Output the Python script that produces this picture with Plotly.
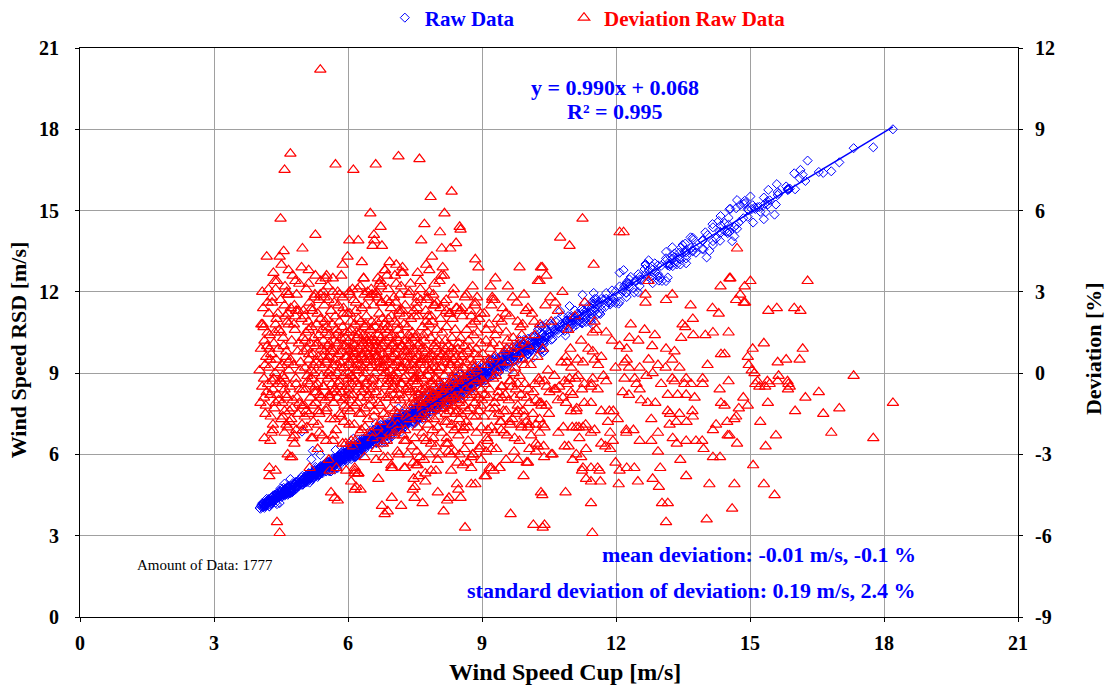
import numpy as np
import plotly.graph_objects as go

# Each sample: (cup wind speed [m/s], deviation of RSD from cup [%])
upper_scatter = [
    (5.38, 11.2), (4.71, 8.1), (4.58, 7.5), (5.72, 7.7), (6.12, 7.5), (6.62, 7.7), (7.13, 8.0),
    (7.60, 7.9), (8.32, 6.7), (7.85, 6.5), (4.49, 5.7), (6.50, 5.9), (6.73, 5.4), (7.71, 5.5),
    (8.16, 5.9), (8.50, 5.4), (11.25, 5.7), (5.27, 5.1), (6.03, 4.9), (8.06, 5.2), (8.52, 5.3),
    (7.64, 4.9), (8.42, 4.8), (8.29, 4.6), (8.10, 4.6), (6.23, 4.9), (6.58, 5.1), (6.59, 4.9),
    (6.55, 4.7), (6.76, 4.7), (10.75, 5.0), (10.96, 4.7), (12.08, 5.2), (12.17, 5.2), (14.71, 4.6),
    (4.97, 37.7), (5.21, 17.8), (5.18, 12.4),
    (7.88, 4.3), (7.75, 4.0), (7.82, 3.8), (7.56, 3.7), (8.12, 3.9), (8.09, 3.6), (8.05, 3.4),
    (6.31, 4.1), (6.93, 4.1), (7.08, 4.0), (6.82, 3.8), (6.87, 3.6), (7.20, 3.7), (6.67, 3.5),
    (6.73, 3.4), (6.35, 3.5), (6.21, 3.1), (6.74, 3.2), (7.08, 3.3), (8.85, 4.2), (8.92, 3.9),
    (8.79, 3.2), (9.19, 3.2), (9.30, 3.5), (9.84, 3.9), (9.58, 3.2), (10.25, 3.4), (10.32, 3.9),
    (7.62, 3.1), (7.91, 2.9), (8.20, 2.7), (8.65, 2.9), (8.89, 2.8), (9.28, 2.7), (9.69, 2.8),
    (9.94, 2.9), (10.03, 2.4), (9.23, 2.8), (9.21, 2.5), (9.53, 2.2), (9.80, 1.9), (9.91, 1.8),
    (10.17, 1.9), (8.97, 2.2), (8.76, 2.1), (8.84, 2.5), (8.42, 2.4), (8.27, 2.2), (8.20, 2.3),
    (8.52, 2.3), (7.86, 2.1), (7.75, 1.9), (7.23, 3.7), (7.56, 2.8), (7.53, 2.6), (7.92, 2.5),
    (7.77, 2.7), (6.37, 2.9), (6.52, 3.1), (6.63, 2.9), (6.74, 2.6), (6.93, 2.6), (7.03, 2.8),
    (7.15, 2.3), (7.26, 2.1),
]

low_wind = [
    (4.56, 4.5), (4.18, 4.3), (4.98, 4.6), (4.47, 4.3), (4.51, 4.0), (4.67, 3.8), (4.96, 3.9),
    (5.12, 3.8), (4.82, 3.4), (5.12, 3.3), (4.33, 3.7), (4.36, 3.4), (4.38, 3.1), (5.99, 4.3),
    (5.88, 4.0), (5.52, 3.6), (4.22, 3.1), (4.29, 2.8), (4.67, 2.9), (5.27, 3.6), (5.50, 3.5),
    (5.66, 3.5), (5.38, 2.9), (5.47, 2.8), (5.77, 3.0), (5.88, 2.8), (6.03, 3.0), (4.66, 2.9),
    (4.80, 2.5), (4.58, 2.5), (4.84, 2.3), (5.00, 2.3), (4.23, 2.2), (4.43, 2.2), (4.60, 2.1),
    (4.82, 2.1), (4.06, 1.8), (4.09, 1.8), (4.20, 1.5), (4.38, 1.8), (4.50, 1.5), (4.67, 1.8),
    (4.13, 1.2), (4.24, 0.9), (4.17, 0.6), (4.39, 0.5), (4.62, 0.8), (4.66, 0.4), (4.02, 0.1),
    (4.12, -0.2), (4.33, -0.2), (4.54, -0.1),
    (4.41, -5.5), (4.47, -5.9), (5.62, -4.4), (5.77, -4.7), (5.70, -4.6), (4.24, -3.5),
    (4.38, -3.6), (4.24, -3.8), (4.65, -3.0), (4.71, -3.1), (4.75, -3.1), (4.13, -2.4),
    (4.26, -2.5), (4.32, -2.1), (4.32, -1.9), (4.15, -1.5), (4.12, -0.9), (4.26, -0.8),
    (4.38, -1.1), (4.45, -1.0), (4.58, -2.2), (4.65, -2.0), (4.62, -1.9), (4.73, -1.7),
    (4.76, -2.4), (4.80, -2.6), (4.80, -2.3), (4.54, -1.6), (4.58, -1.4), (4.69, -1.4),
    (4.32, -0.6), (4.58, -0.6), (4.54, -0.4), (4.99, -2.1), (5.18, -2.4), (5.21, -2.4),
    (5.36, -2.2), (5.51, -2.5), (5.66, -2.5), (5.88, -2.6), (6.07, -2.5), (6.11, -2.7),
    (5.32, -2.8), (5.14, -3.5), (5.57, -3.2), (5.59, -3.6), (5.74, -3.5), (5.96, -3.6),
    (6.15, -3.7), (6.07, -4.0), (6.15, -4.3), (6.18, -4.2), (6.28, -4.3), (6.23, -3.7),
    (4.05, 0.9), (4.08, -0.5), (4.10, 2.4), (4.14, 0.3), (4.16, -1.2), (4.19, 1.0), (4.21, -0.4),
    (4.23, 0.2), (4.25, 1.4), (4.27, -1.6), (4.28, 0.7), (4.30, 2.6), (4.31, -0.3), (4.34, 1.1),
    (4.35, -1.3), (4.37, 0.0), (4.40, 2.0), (4.42, -0.8), (4.44, 0.9), (4.46, 1.6), (4.48, -0.3),
    (4.49, 2.7), (4.52, 0.3), (4.53, -1.1), (4.55, 1.3), (4.57, -0.2), (4.59, 3.2), (4.61, 0.6),
    (4.63, -0.9), (4.64, 1.9), (4.68, 0.1), (4.70, -0.5), (4.72, 2.4), (4.74, 1.2), (4.77, -1.0),
    (4.78, 0.3), (4.81, 1.6), (4.83, -0.2), (4.85, 2.9), (4.87, 0.8), (4.88, -1.5), (4.90, 1.1),
    (4.92, -0.6), (4.94, 0.4), (4.96, 2.0), (4.97, -1.9), (4.99, 1.3),
    (4.84, -0.4), (4.99, -0.6), (5.14, -0.4), (5.29, -0.7), (5.44, -0.5), (5.59, -0.9),
    (5.74, -0.7), (5.88, -1.0), (6.03, -0.8), (6.15, -1.2), (4.91, -1.1), (5.06, -1.4),
    (5.21, -1.2), (5.36, -1.5), (5.51, -1.4), (5.70, -1.7), (5.85, -1.6), (6.03, -1.9),
    (4.69, -1.8), (4.84, -2.1),
    (4.04, -1.1), (4.11, 1.7), (4.18, -0.7), (4.26, 0.5), (4.29, -2.2), (4.36, 1.5), (4.43, -0.4),
    (4.47, 0.2), (4.51, -1.7), (4.56, 1.0), (4.60, -0.8), (4.66, 2.2), (4.71, 0.5), (4.75, -1.3),
    (4.79, 1.8), (4.86, -0.9), (4.89, 2.3), (4.93, 0.1), (4.98, -1.2), (4.08, 3.0), (4.20, 2.6),
    (4.41, 3.4), (4.63, 3.0), (4.76, 3.6), (4.91, 3.3),
]

core_wind = [
    (5.01, 0.8), (5.02, -1.2), (5.03, 2.1), (5.04, 0.2), (5.05, -0.6), (5.06, 1.5), (5.07, 3.1),
    (5.08, -2.0), (5.09, 0.9), (5.10, -0.3), (5.11, 1.9), (5.12, 0.5), (5.13, -1.5), (5.14, 2.6),
    (5.15, 1.1), (5.16, -0.9), (5.17, 0.1), (5.18, 1.7), (5.19, -0.2), (5.20, 2.3), (5.21, 0.7),
    (5.22, -1.8), (5.23, 1.3), (5.24, 0.0), (5.25, -0.7), (5.26, 2.9), (5.27, 1.0), (5.28, -1.1),
    (5.29, 0.4), (5.30, 1.8), (5.31, -0.4), (5.32, 2.2), (5.33, 0.6), (5.34, -1.4), (5.35, 1.4),
    (5.36, 0.3), (5.37, -0.8), (5.38, 2.0), (5.39, 3.4), (5.40, 0.9), (5.41, -0.1), (5.42, 1.6),
    (5.43, -2.3), (5.44, 0.2), (5.45, 1.2), (5.46, -0.5), (5.47, 2.5), (5.48, 0.8), (5.49, -1.0),
    (5.50, 1.5),
    (5.51, 0.4), (5.52, -1.3), (5.53, 2.0), (5.54, 1.0), (5.55, -0.2), (5.56, 2.7), (5.57, 0.6),
    (5.58, -0.8), (5.59, 1.4), (5.60, 0.1), (5.61, -1.7), (5.62, 2.3), (5.63, 0.9), (5.64, -0.4),
    (5.65, 1.8), (5.66, 3.0), (5.67, 0.3), (5.68, -1.1), (5.69, 1.2), (5.70, 0.5), (5.71, -0.6),
    (5.72, 2.1), (5.73, -2.1), (5.74, 1.6), (5.75, 0.0), (5.76, -0.9), (5.77, 1.1), (5.78, 2.5),
    (5.79, 0.7), (5.80, -0.3), (5.81, 1.9), (5.82, -1.5), (5.83, 0.4), (5.84, 1.3), (5.85, 3.6),
    (5.86, -0.7), (5.87, 0.8), (5.88, 1.7), (5.89, -0.1), (5.90, 2.4), (5.91, 0.2), (5.92, -1.2),
    (5.93, 1.0), (5.94, 0.6), (5.95, -2.6), (5.96, 1.5), (5.97, -0.5), (5.98, 2.2), (5.99, 0.9),
    (6.00, -0.2), (5.53, 0.5), (5.58, 1.1), (5.63, -0.1), (5.68, 0.8), (5.73, 1.4), (5.78, -0.4),
    (5.83, 0.2), (5.88, 1.0), (5.93, -0.9), (5.98, 0.6),
    (6.01, 1.2), (6.02, -0.6), (6.03, 0.4), (6.04, 2.2), (6.05, -1.4), (6.06, 0.9), (6.07, 1.6),
    (6.08, -0.1), (6.09, 0.6), (6.10, 3.1), (6.11, -0.8), (6.12, 1.1), (6.13, 0.2), (6.14, -1.9),
    (6.15, 1.8), (6.16, 0.7), (6.17, -0.3), (6.18, 2.6), (6.19, 0.1), (6.20, 1.3), (6.21, -1.1),
    (6.22, 0.5), (6.23, 2.0), (6.24, -0.5), (6.25, 0.9), (6.26, 1.5), (6.27, -2.2), (6.28, 0.3),
    (6.29, 1.0), (6.30, -0.7), (6.31, 2.4), (6.32, 0.6), (6.33, -0.2), (6.34, 1.4), (6.35, 3.5),
    (6.36, 0.0), (6.37, -1.3), (6.38, 1.7), (6.39, 0.8), (6.40, -0.4), (6.41, 2.1), (6.42, 0.4),
    (6.43, -0.9), (6.44, 1.2), (6.45, -1.7), (6.46, 0.7), (6.47, 2.8), (6.48, 0.2), (6.49, -0.6),
    (6.50, 1.6), (6.02, 0.3), (6.06, 1.9), (6.11, -0.2), (6.15, 0.8), (6.19, 1.5), (6.24, 0.1),
    (6.28, -0.9), (6.33, 1.1), (6.37, 0.5), (6.42, -0.3), (6.46, 1.3), (6.49, 0.6), (6.04, -1.0),
    (6.13, 2.7), (6.22, -0.4), (6.31, 0.7), (6.40, 1.8), (6.48, -1.2),
    (6.51, 0.5), (6.52, -1.0), (6.53, 1.9), (6.54, 0.3), (6.55, -0.3), (6.56, 1.3), (6.57, 2.5),
    (6.58, -1.6), (6.59, 0.8), (6.60, 0.0), (6.61, 1.7), (6.62, -0.7), (6.63, 1.0), (6.64, 3.0),
    (6.65, 0.4), (6.66, -2.0), (6.67, 1.4), (6.68, 0.6), (6.69, -0.4), (6.70, 2.2), (6.71, 0.9),
    (6.72, -1.2), (6.73, 1.6), (6.74, 0.2), (6.75, -0.8), (6.76, 2.6), (6.77, 1.1), (6.78, -0.1),
    (6.79, 0.7), (6.80, -1.5), (6.81, 1.8), (6.82, 0.3), (6.83, 3.8), (6.84, -0.5), (6.85, 1.2),
    (6.86, 0.5), (6.87, -2.5), (6.88, 1.5), (6.89, -0.2), (6.90, 2.0), (6.91, 0.8), (6.92, -0.9),
    (6.93, 1.3), (6.94, 0.1), (6.95, -1.3), (6.96, 2.4), (6.97, 0.6), (6.98, -0.6), (6.99, 1.0),
    (7.00, -0.1), (6.52, 0.9), (6.56, -0.2), (6.60, 1.2), (6.64, 0.6), (6.68, -1.1), (6.72, 0.4),
    (6.76, 1.0), (6.80, 0.2), (6.84, 1.6), (6.88, -0.4), (6.92, 0.9), (6.96, -0.3), (6.54, 2.9),
    (6.63, -2.8), (6.71, 3.3), (6.79, -3.1), (6.87, 2.7), (6.95, -2.2),
    (7.01, 1.1), (7.02, -0.8), (7.03, 0.3), (7.04, 1.9), (7.05, -1.4), (7.06, 0.7), (7.07, 2.6),
    (7.08, -0.2), (7.09, 1.3), (7.10, 0.0), (7.11, -1.9), (7.12, 1.6), (7.13, 0.5), (7.14, -0.6),
    (7.15, 2.2), (7.16, 0.9), (7.17, -1.0), (7.18, 1.4), (7.19, 3.2), (7.20, 0.2), (7.21, -0.4),
    (7.22, 1.0), (7.23, -2.3), (7.24, 0.6), (7.25, 1.8), (7.26, -0.9), (7.27, 0.4), (7.28, 2.5),
    (7.29, -0.1), (7.30, 1.2), (7.31, -1.6), (7.32, 0.8), (7.33, 1.7), (7.34, -0.5), (7.35, 0.3),
    (7.36, 2.9), (7.37, -1.2), (7.38, 1.1), (7.39, 0.1), (7.40, -0.7), (7.41, 2.0), (7.42, 0.7),
    (7.43, -2.7), (7.44, 1.5), (7.45, -0.3), (7.46, 0.9), (7.47, 2.3), (7.48, -1.1), (7.49, 0.5),
    (7.50, 1.3), (7.03, -0.3), (7.07, 0.9), (7.11, 0.4), (7.15, -0.8), (7.19, 1.0), (7.23, 0.2),
    (7.27, -1.3), (7.31, 0.6), (7.35, 1.4), (7.39, -0.6), (7.43, 0.3), (7.47, -0.2), (7.05, 3.6),
    (7.14, -3.0), (7.22, 3.9), (7.30, -2.5), (7.38, 3.0), (7.46, -3.3),
    (7.51, 0.2), (7.52, -1.1), (7.53, 1.4), (7.54, -0.4), (7.55, 0.6), (7.56, -2.0), (7.57, 2.1),
    (7.58, -0.8), (7.59, 0.0), (7.60, 1.1), (7.61, -1.5), (7.62, 0.4), (7.63, 2.7), (7.64, -0.6),
    (7.65, 0.9), (7.66, -1.2), (7.67, 1.7), (7.68, -0.2), (7.69, 0.5), (7.70, -2.4), (7.71, 1.2),
    (7.72, -0.9), (7.73, 0.3), (7.74, 2.3), (7.75, -0.5), (7.76, 0.8), (7.77, -1.7), (7.78, 1.5),
    (7.79, -0.1), (7.80, 0.6), (7.81, -1.0), (7.82, 3.0), (7.83, 0.1), (7.84, -0.7), (7.85, 1.3),
    (7.86, -1.4), (7.87, 0.7), (7.88, -0.3), (7.89, 1.9), (7.90, -2.1), (7.91, 0.4), (7.92, -0.8),
    (7.93, 1.0), (7.94, -0.2), (7.95, 2.5), (7.96, -1.3), (7.97, 0.2), (7.98, -0.6), (7.99, 1.6),
    (8.00, -1.0), (7.52, 0.8), (7.56, -0.3), (7.60, -1.0), (7.64, 0.5), (7.68, -1.3), (7.72, 0.9),
    (7.76, -0.7), (7.80, 0.1), (7.84, -1.1), (7.88, 0.6), (7.92, -0.5), (7.96, 1.1), (7.54, -2.9),
    (7.62, 3.4), (7.70, -3.2), (7.78, 2.8), (7.86, -2.6), (7.94, 3.3),
    (8.01, 0.5), (8.02, -1.6), (8.03, 1.2), (8.04, -0.3), (8.05, 0.8), (8.06, -1.0), (8.07, 2.0),
    (8.08, -0.6), (8.09, 0.2), (8.10, -2.2), (8.11, 1.5), (8.12, -0.8), (8.13, 0.4), (8.14, -1.3),
    (8.15, 2.6), (8.16, -0.1), (8.17, 0.9), (8.18, -1.8), (8.19, 0.6), (8.20, -0.5), (8.21, 1.7),
    (8.22, -1.1), (8.23, 0.1), (8.24, -2.6), (8.25, 1.0), (8.26, -0.4), (8.27, 0.7), (8.28, -1.4),
    (8.29, 2.2), (8.30, -0.7), (8.31, 0.3), (8.32, -1.9), (8.33, 1.3), (8.34, -0.2), (8.35, 0.5),
    (8.36, -1.2), (8.37, 3.1), (8.38, -0.9), (8.39, 0.0), (8.40, 1.6), (8.41, -1.5), (8.42, 0.6),
    (8.43, -0.6), (8.44, 2.4), (8.45, -2.0), (8.46, 0.9), (8.47, -0.3), (8.48, 1.1), (8.49, -1.1),
    (8.50, 0.4), (8.03, -0.9), (8.08, 0.6), (8.13, -0.5), (8.18, 1.2), (8.23, -1.2), (8.28, 0.3),
    (8.33, -0.8), (8.38, 0.8), (8.43, -1.4), (8.48, 0.1), (8.05, -3.0), (8.15, 3.6), (8.25, -2.9),
    (8.35, 2.9), (8.45, -3.3),
    (8.51, -0.4), (8.52, 1.3), (8.53, -1.5), (8.54, 0.6), (8.55, -0.8), (8.56, 2.1), (8.57, -2.1),
    (8.58, 0.2), (8.59, -0.2), (8.60, 1.0), (8.61, -1.2), (8.62, 2.8), (8.63, -0.6), (8.64, 0.4),
    (8.65, -1.8), (8.66, 1.6), (8.67, -0.1), (8.68, 0.8), (8.69, -2.5), (8.70, 1.2), (8.71, -0.9),
    (8.72, 0.0), (8.73, 2.3), (8.74, -1.3), (8.75, 0.5), (8.76, -0.5), (8.77, 1.8), (8.78, -1.6),
    (8.79, 0.3), (8.80, -3.0), (8.81, 1.4), (8.82, -0.7), (8.83, 0.7), (8.84, -1.1), (8.85, 2.6),
    (8.86, -0.3), (8.87, 0.9), (8.88, -2.2), (8.89, 0.1), (8.90, 1.5), (8.91, -0.9), (8.92, 0.6),
    (8.93, -1.4), (8.94, 2.0), (8.95, -0.2), (8.96, -2.7), (8.97, 1.1), (8.98, -0.6), (8.99, 0.3),
    (9.00, -1.0),
    (6.30, -1.5), (6.59, -1.4), (6.89, -1.6), (7.11, -1.5), (7.34, -1.7), (7.56, -1.6), (7.79, -1.9),
    (8.01, -2.0), (8.23, -1.8), (8.38, -2.1), (8.61, -2.0), (6.30, -2.1), (6.52, -2.2), (6.74, -2.3),
    (7.04, -2.2), (7.26, -2.5), (7.49, -2.4), (7.75, -2.5), (7.97, -2.7), (8.20, -2.6), (8.38, -2.9),
    (8.61, -2.8), (8.79, -3.0), (6.37, -3.1), (6.63, -3.2), (6.89, -3.1), (7.11, -2.9), (7.34, -3.0),
    (7.60, -3.1), (7.82, -3.0), (8.01, -3.2), (8.31, -3.0), (8.50, -3.0), (8.68, -3.3), (6.15, -3.5),
    (6.22, -3.7), (6.97, -3.5), (7.26, -3.5), (7.86, -3.6),
]

core_fill = [
    (5.04, 1.2), (5.09, -0.1), (5.13, 0.7), (5.18, 2.4), (5.22, 0.3), (5.27, -0.5), (5.31, 1.1),
    (5.35, 2.7), (5.40, -0.9), (5.44, 0.6), (5.48, 1.9), (5.03, -1.6), (5.12, 1.6), (5.24, 2.8),
    (5.33, -1.9), (5.45, 3.0), (5.52, 1.7), (5.56, 0.0), (5.61, 0.8), (5.65, -0.7), (5.69, 2.6),
    (5.74, 0.3), (5.79, 1.5), (5.84, -0.5), (5.89, 2.2), (5.94, 1.3), (5.99, -1.3), (5.55, 3.2),
    (5.67, -2.3), (5.81, 2.9), (5.91, -1.8), (6.03, 1.5), (6.07, -0.4), (6.10, 0.8), (6.14, 1.0),
    (6.17, 2.3), (6.21, 0.3), (6.25, -1.5), (6.29, 1.9), (6.32, 1.2), (6.36, -0.6), (6.39, 2.5),
    (6.43, 0.9), (6.47, -0.8), (6.05, 2.9), (6.16, -2.5), (6.27, 3.2), (6.38, -2.0), (6.44, 3.0),
    (6.01, 0.0), (6.12, 0.5), (6.23, 1.4), (6.34, 0.2), (6.45, 1.1), (6.53, 1.2), (6.57, -0.5),
    (6.61, 0.6), (6.65, 1.9), (6.69, 0.2), (6.73, -1.8), (6.77, 2.0), (6.81, 0.5), (6.85, -0.9),
    (6.89, 1.7), (6.93, 0.4), (6.97, 2.1), (6.55, -2.4), (6.66, 2.8), (6.78, -2.6), (6.90, 3.1),
    (6.99, -1.9), (6.51, 1.6), (6.62, 0.9), (6.74, 1.3), (6.86, 0.0), (6.98, 1.4), (7.02, 0.6),
    (7.06, -1.0), (7.10, 1.8), (7.14, 0.2), (7.18, -0.4), (7.22, 2.3), (7.26, 0.8), (7.30, -0.6),
    (7.34, 1.0), (7.38, -1.7), (7.42, 1.3), (7.46, 0.1), (7.49, 2.1), (7.04, -2.3), (7.16, 2.9),
    (7.28, -2.1), (7.40, 3.3), (7.01, -0.5), (7.13, 1.2), (7.25, -0.2), (7.37, 0.6), (7.48, -0.9),
    (7.53, -0.2), (7.57, 1.0), (7.61, 0.3), (7.65, -1.6), (7.69, 1.4), (7.73, -0.6), (7.77, 0.5),
    (7.81, 1.8), (7.85, -0.9), (7.89, 0.2), (7.93, -1.7), (7.97, 0.9), (7.55, 2.4), (7.67, -2.2),
    (7.79, 2.1), (7.91, -2.4), (7.99, 2.6), (7.51, -0.7), (7.63, -0.1), (7.75, -1.1), (7.87, -0.4),
    (7.98, -0.2), (8.02, 0.1), (8.06, -1.3), (8.11, 0.7), (8.15, -0.7), (8.19, -1.5), (8.24, 0.4),
    (8.28, -0.9), (8.32, 0.9), (8.36, -0.3), (8.41, -1.0), (8.45, 0.3), (8.49, -1.7), (8.07, 2.4),
    (8.21, -2.4), (8.34, 2.0), (8.47, -2.3), (8.52, -1.0), (8.57, 0.7), (8.62, -0.3), (8.67, -1.4),
    (8.72, 0.9), (8.77, -0.8), (8.82, 0.2), (8.87, -1.6), (8.92, -0.2), (8.97, -1.2), (8.55, 2.4),
    (8.70, -2.0), (8.85, 1.9), (9.05, -0.8), (9.15, 0.5), (9.25, -1.6), (9.35, 1.6), (9.45, -0.9),
    (9.57, 1.2), (9.67, -0.5), (9.77, -1.5), (9.89, 1.4), (9.99, -1.8),
]

mid_wind = [
    (9.02, 0.7), (9.04, -1.6), (9.05, 2.2), (9.07, -0.4), (9.09, 1.2), (9.11, -2.4), (9.12, 0.3),
    (9.14, -0.9), (9.16, 1.8), (9.18, -1.3), (9.19, 0.9), (9.21, -2.0), (9.23, 2.7), (9.25, -0.2),
    (9.27, 0.6), (9.28, -1.1), (9.30, 1.4), (9.32, -2.8), (9.34, 0.1), (9.36, 2.0), (9.37, -0.7),
    (9.39, 1.0), (9.41, -1.8), (9.43, 0.4), (9.45, -0.5), (9.46, 2.4), (9.48, -1.4), (9.50, 0.8),
    (9.03, -0.3), (9.10, 1.6), (9.17, -0.6), (9.24, 1.1), (9.31, -0.1), (9.38, -1.5), (9.44, 1.9),
    (9.49, -2.2),
    (9.52, -0.8), (9.54, 1.5), (9.56, -2.3), (9.58, 0.4), (9.60, -1.0), (9.62, 2.1), (9.64, -0.3),
    (9.66, 0.9), (9.68, -1.7), (9.70, 1.3), (9.72, -2.9), (9.74, 0.2), (9.76, -0.6), (9.78, 2.6),
    (9.80, -1.2), (9.82, 0.7), (9.84, -0.1), (9.86, 1.7), (9.88, -2.0), (9.90, 0.5), (9.92, -1.4),
    (9.94, 1.1), (9.96, -0.4), (9.98, 2.3), (10.00, -0.9), (9.55, 0.9), (9.63, -1.9), (9.71, 0.0),
    (9.79, 1.0), (9.87, -0.8), (9.95, 0.3),
    (10.03, 1.0), (10.06, -1.9), (10.09, 0.3), (10.12, 2.2), (10.15, -0.7), (10.18, 1.4),
    (10.21, -2.6), (10.24, 0.6), (10.27, -0.2), (10.30, 1.8), (10.33, -1.2), (10.36, 0.9),
    (10.39, -3.1), (10.42, 2.5), (10.45, -0.5), (10.48, 0.1),
    (10.55, 1.9), (10.62, -0.1), (10.70, 2.3), (10.78, 0.4), (10.85, -0.3), (10.93, 1.6),
    (11.00, 0.2), (11.08, 2.1), (11.15, -0.1), (11.22, 1.2), (11.30, 2.6), (11.38, 0.9),
    (11.45, -0.4), (11.52, 1.9), (11.60, 0.3),
    (9.43, -0.5), (9.62, -0.3), (9.80, -0.4), (10.03, -0.6), (10.18, -0.4), (10.29, -0.3),
    (9.35, -0.9), (9.73, -0.9), (10.06, -1.1), (10.21, -1.0), (10.32, -1.1), (9.28, -1.3),
    (9.54, -1.4), (9.80, -1.4), (9.95, -1.6), (10.14, -1.5), (10.29, -1.7), (9.43, -1.8),
    (9.62, -1.8), (9.88, -1.9), (10.03, -2.0), (10.21, -1.9), (8.98, -2.0), (9.13, -2.1),
    (9.28, -2.2), (9.43, -2.1), (9.73, -2.4), (9.84, -2.5), (10.10, -2.3), (10.25, -2.7),
    (10.06, -2.8), (10.21, -2.9), (9.13, -2.5), (9.21, -2.8), (8.94, -2.8), (9.09, -2.9),
    (8.76, -3.1), (8.98, -3.2), (9.21, -3.5), (9.39, -3.5), (9.54, -3.2), (9.80, -3.2),
    (10.03, -3.3),
    (8.62, -5.7), (9.64, -5.2), (10.15, -5.6), (10.36, -5.7), (8.14, -5.1), (8.52, -4.6),
    (8.26, -4.6), (8.22, -4.7), (7.67, -4.8), (7.19, -4.9), (6.98, -4.6), (6.76, -4.9),
    (6.82, -5.2), (6.89, -5.1), (8.01, -4.4), (7.49, -4.6), (7.45, -4.3), (7.49, -4.2),
    (7.73, -4.0), (7.58, -3.8), (7.47, -3.9), (8.44, -4.1), (8.47, -4.3), (8.76, -4.1),
    (8.85, -4.1), (9.09, -3.8), (9.06, -3.8), (9.39, -3.5), (9.93, -3.8), (10.00, -3.3),
    (10.32, -4.4), (8.31, -3.6), (7.97, -3.6), (7.73, -3.7), (7.53, -3.4), (7.56, -3.4),
    (7.28, -3.5), (7.00, -3.5), (6.97, -3.4), (6.68, -3.9), (8.76, -3.5), (8.57, -3.4),
    (9.17, -3.5), (9.26, -3.6), (6.15, -3.6), (6.23, -3.7),
    (10.35, 3.9), (10.44, 3.6), (10.29, 3.4), (11.50, 4.0), (10.53, 2.8), (10.64, 2.6),
    (10.80, 3.0), (10.98, 0.9), (11.48, 0.8), (11.67, 0.6), (11.52, 0.5), (11.26, 0.4),
    (11.14, 0.5), (10.88, 0.6), (10.90, 0.4), (11.48, 1.5), (11.56, 1.6), (11.78, 1.5),
    (11.91, 1.2), (12.08, 1.0), (11.72, -0.1), (11.48, -0.2), (11.09, -0.2), (10.96, -0.2),
    (10.40, -0.3), (10.65, -0.6), (10.51, -0.7), (10.62, -0.6), (10.73, -0.5), (10.92, -0.4),
    (10.99, -0.7), (11.03, -0.8), (11.24, -0.6), (11.29, -0.4), (11.44, -0.5), (11.59, -0.6),
    (11.78, -0.3), (10.29, -1.1), (10.44, -1.2), (10.50, -1.5), (10.36, -1.9), (10.40, -2.0),
    (10.29, -2.2), (10.38, -2.7), (10.70, -1.0), (10.81, -0.9), (10.88, -1.1), (10.99, -1.4),
    (11.11, -1.4), (11.12, -1.3), (11.29, -1.1), (11.44, -1.1), (11.67, -1.4), (11.85, -1.4),
    (11.94, -1.4), (10.71, -2.2), (10.82, -2.0), (11.02, -2.0), (11.11, -2.0), (11.17, -2.0),
    (11.26, -2.0), (11.32, -1.9), (11.44, -2.2), (11.52, -2.1), (11.18, -2.4), (11.82, -1.8),
    (11.87, -2.2), (11.93, -2.5), (11.67, -2.6), (11.76, -2.7), (11.87, -2.8), (11.33, -2.8),
    (10.58, -3.0), (10.55, -3.0), (10.85, -2.7), (10.94, -2.7), (11.03, -3.2), (11.11, -3.0),
    (11.22, -3.1), (11.26, -3.5), (11.24, -3.6), (11.44, -3.5), (11.59, -3.5), (11.63, -3.6),
    (11.33, -3.9), (11.44, -4.0), (11.65, -4.0), (11.99, -3.3), (10.35, -4.5), (10.87, -4.4),
    (11.44, -4.8), (10.40, -5.6), (11.47, -5.9),
]

high_wind = [
    (12.73, 3.4), (12.66, 2.9), (13.26, 2.9), (13.12, 2.7), (12.66, 2.6), (13.67, 2.5), (14.30, 2.2),
    (14.16, 2.4), (14.34, 3.2), (14.54, 3.5), (12.33, 1.8), (12.64, 1.6), (12.87, 1.4), (13.49, 1.8),
    (13.72, 2.0), (13.55, 1.7), (13.73, 1.4), (14.00, 1.4), (14.17, 1.5), (13.46, 1.3), (12.30, 1.3),
    (12.50, 1.2), (12.81, 1.0), (13.12, 0.9), (13.31, 0.8), (12.24, 0.9), (11.99, 0.2), (12.24, 0.5),
    (12.29, 0.2), (12.19, 0.4), (12.53, 0.2), (12.94, 0.3), (12.73, 0.5), (13.11, 0.2), (13.42, 0.2),
    (13.26, 0.5), (14.05, 0.3), (14.35, 0.7), (14.43, 0.7), (13.94, -0.2), (12.19, -0.2),
    (12.42, -0.2), (12.68, -0.1), (12.82, 0.0), (13.26, -0.2), (13.57, -0.2),
    (16.29, 3.4), (14.56, 3.5), (14.88, 3.2), (15.01, 3.4), (14.78, 2.9), (14.69, 2.7), (14.89, 2.6),
    (14.86, 2.6), (15.41, 2.3), (15.60, 2.4), (15.99, 2.4), (16.13, 2.3), (14.52, 1.5), (15.31, 1.1),
    (16.18, 0.9), (15.06, 0.9), (14.95, 0.6), (14.97, 0.3), (15.62, 0.4), (15.81, 0.5), (16.11, 0.5),
    (15.04, 0.1), (15.10, 0.0), (17.32, -0.1), (15.64, -0.1), (14.52, -0.3), (15.17, -0.3),
    (15.39, -0.3), (15.84, -0.3),
    (15.12, -0.4), (15.21, -0.5), (15.34, -0.5), (15.44, -0.4), (15.62, -0.3), (15.86, -0.4),
    (15.85, -0.6), (15.89, -0.5), (16.54, -0.7), (16.24, -0.9), (18.20, -1.1), (14.85, -0.9),
    (14.95, -1.2), (15.40, -1.1), (14.43, -1.2), (14.75, -1.3), (17.00, -1.3), (16.01, -1.4),
    (16.64, -1.5), (14.69, -1.6), (14.65, -1.7), (14.49, -1.8), (15.23, -1.8), (16.82, -2.2),
    (17.76, -2.4), (15.58, -2.3), (14.54, -2.3), (14.71, -2.6), (15.35, -2.7), (15.07, -3.4),
    (14.65, -4.1), (15.31, -4.1), (15.55, -4.5), (14.60, -5.0),
    (12.15, -0.7), (12.29, -0.8), (12.46, -0.4), (12.53, -0.6), (12.56, -1.0), (12.71, -1.1),
    (12.88, -1.1), (13.01, -0.4), (13.16, -0.8), (13.31, -0.3), (13.38, -0.8), (13.53, -0.4),
    (13.57, -0.8), (13.68, -0.4), (13.76, -0.9), (13.94, -0.4), (14.32, -0.6), (14.35, -1.1),
    (12.04, -1.7), (12.79, -1.7), (13.16, -1.4), (13.21, -1.5), (13.42, -1.5), (13.35, -1.8),
    (13.20, -1.9), (13.71, -1.4), (13.72, -1.6), (13.58, -1.8), (14.24, -1.9), (14.17, -2.1),
    (14.50, -2.3), (12.23, -2.1), (12.39, -2.1), (12.23, -2.2), (12.53, -2.5), (12.79, -2.5),
    (12.94, -2.2), (13.27, -2.4), (13.36, -2.6), (13.57, -2.5), (13.79, -2.5), (13.93, -2.5),
    (13.96, -2.8), (12.08, -3.6), (12.24, -3.5), (12.41, -3.5), (12.06, -4.1), (12.49, -4.0),
    (12.82, -3.9), (12.96, -4.2), (12.99, -3.5), (12.94, -2.9), (13.44, -3.2), (13.57, -3.8),
    (14.09, -4.1), (14.33, -3.1), (14.17, -3.1), (13.03, -4.8), (13.16, -4.8), (13.12, -5.5),
    (14.03, -5.4),
]

# Trend line of RSD against cup speed and summary statistics
fit_slope = 0.990
fit_intercept = 0.068
fit_label = "y = 0.990x + 0.068"
r2_label = "R² = 0.995"
mean_label = "mean deviation: -0.01 m/s, -0.1 %"
std_label = "standard deviation of deviation: 0.19 m/s, 2.4 %"
count_label = "Amount of Data: 1777"

speed_ticks = [0, 3, 6, 9, 12, 15, 18, 21]
dev_ticks = [-9, -6, -3, 0, 3, 6, 9, 12]
dev_tick_text = ["-9", "-6", "-3", "0", "3", "6", "9", "12"]

samples = np.array(upper_scatter + low_wind + core_wind + core_fill + mid_wind + high_wind)
cup = samples[:, 0]
dev = samples[:, 1]
rsd = cup * (1.0 + dev / 100.0)

fit_x = np.array([cup.min(), cup.max()])
fit_y = fit_slope * fit_x + fit_intercept

BLUE = "#0000FF"
RED = "#FF0000"
FONT = "Liberation Serif"
GRID = "#A0A0A0"

fig = go.Figure()
fig.add_trace(go.Scatter(
    x=cup, y=rsd, mode="markers", name="Raw Data", legend="legend",
    marker=dict(symbol="diamond-open", size=7, color=BLUE, line=dict(width=1, color=BLUE)),
    xaxis="x", yaxis="y",
))
fig.add_trace(go.Scatter(
    x=cup, y=dev, mode="markers", name="Deviation Raw Data", legend="legend2",
    marker=dict(symbol="triangle-up-open", size=10, color=RED, line=dict(width=1.2, color=RED)),
    xaxis="x", yaxis="y2",
))
fig.add_trace(go.Scatter(
    x=fit_x, y=fit_y, mode="lines", showlegend=False,
    line=dict(color=BLUE, width=1.5), xaxis="x", yaxis="y3",
))

tick_font = dict(family=FONT, size=20, color="black", weight="bold")
title_font = dict(family=FONT, size=22, color="black", weight="bold")
legend_base = dict(
    orientation="h", xanchor="left", xref="paper",
    y=1 - 18 / 687, yanchor="middle", yref="container",
    bgcolor="rgba(0,0,0,0)", itemwidth=30,
)

fig.update_layout(
    width=1105, height=687,
    margin=dict(l=80, r=87, t=48, b=70, autoexpand=False),
    paper_bgcolor="white", plot_bgcolor="white",
    font=dict(family=FONT, color="black"),
    showlegend=True,
    legend=dict(legend_base, x=0.325, font=dict(family=FONT, size=21, color=BLUE, weight="bold")),
    legend2=dict(legend_base, x=0.516, font=dict(family=FONT, size=21, color=RED, weight="bold")),
    xaxis=dict(
        range=[0, 21], tickvals=speed_ticks, showgrid=True, gridcolor=GRID, gridwidth=1,
        zeroline=False, showline=True, linecolor="black", linewidth=1, mirror=True,
        ticks="outside", ticklen=4, tickcolor="black", tickfont=tick_font,
        ticklabelstandoff=4,
    ),
    yaxis=dict(
        range=[0, 21], tickvals=speed_ticks, showgrid=True, gridcolor=GRID, gridwidth=1,
        zeroline=False, showline=True, linecolor="black", linewidth=1,
        ticks="outside", ticklen=4, tickcolor="black", tickfont=tick_font,
        ticklabelstandoff=12,
    ),
    yaxis2=dict(
        range=[-9, 12], tickvals=dev_ticks, ticktext=dev_tick_text, overlaying="y", side="right",
        showgrid=False, zeroline=False, showline=True, linecolor="black", linewidth=1,
        ticks="outside", ticklen=4, tickcolor="black", tickfont=tick_font,
        ticklabelstandoff=8,
    ),
    yaxis3=dict(range=[0, 21], overlaying="y", visible=False),
)

# Axis titles
fig.add_annotation(x=0.517, y=-0.0967, xref="paper", yref="paper", text="Wind Speed Cup [m/s]",
                   showarrow=False, font=dict(title_font, size=24),
                   xanchor="center", yanchor="middle")
fig.add_annotation(x=-0.066, y=0.469, xref="paper", yref="paper", text="Wind Speed RSD [m/s]",
                   showarrow=False, font=title_font, textangle=-90,
                   xanchor="center", yanchor="middle")
fig.add_annotation(x=1.080, y=0.471, xref="paper", yref="paper", text="Deviation [%]",
                   showarrow=False, font=title_font, textangle=-90,
                   xanchor="center", yanchor="middle")

text_font = dict(family=FONT, size=22, color=BLUE, weight="bold")
fig.add_annotation(x=0.570, y=0.930, xref="paper", yref="paper", text=fit_label,
                   showarrow=False, font=text_font, xanchor="center", yanchor="middle")
fig.add_annotation(x=0.570, y=0.888, xref="paper", yref="paper", text=r2_label,
                   showarrow=False, font=text_font, xanchor="center", yanchor="middle")
fig.add_annotation(x=0.893, y=0.109, xref="paper", yref="paper", text=mean_label,
                   showarrow=False, font=text_font, xanchor="right", yanchor="middle")
fig.add_annotation(x=0.893, y=0.047, xref="paper", yref="paper", text=std_label,
                   showarrow=False, font=text_font, xanchor="right", yanchor="middle")
fig.add_annotation(x=0.0586, y=0.091, xref="paper", yref="paper", text=count_label,
                   showarrow=False, font=dict(family=FONT, size=15, color="black"),
                   xanchor="left", yanchor="middle")

fig.write_html("out.html")
